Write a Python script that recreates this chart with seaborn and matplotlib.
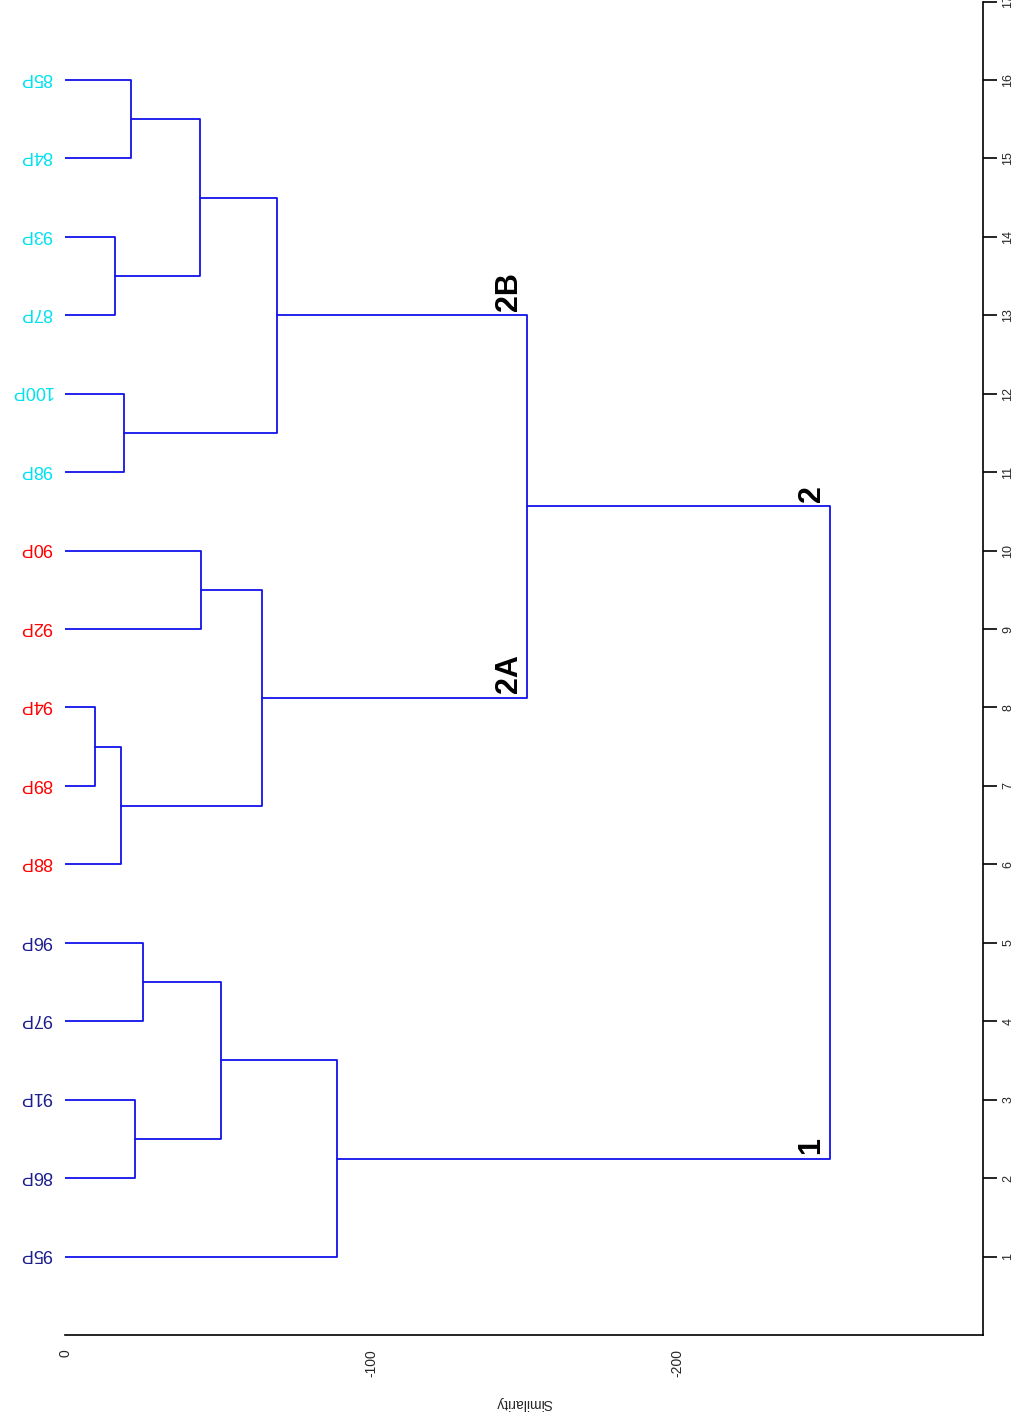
import numpy as np
import pandas as pd
import matplotlib
matplotlib.use("Agg")
import matplotlib.pyplot as plt
import seaborn as sns

# ---- data ----
leaf_labels = ["95P", "86P", "91P", "97P", "96P", "88P", "89P", "94P",
               "92P", "90P", "98P", "100P", "87P", "93P", "84P", "85P"]
leaf_groups = ["1", "1", "1", "1", "1", "2A", "2A", "2A",
               "2A", "2A", "2B", "2B", "2B", "2B", "2B", "2B"]
# merges: (left node, right node, similarity height); leaves are 0..15
merge_left = [1, 3, 16, 0, 6, 5, 8, 21, 10, 12, 14, 25, 24, 23, 19]
merge_right = [2, 4, 17, 18, 7, 20, 9, 22, 11, 13, 15, 26, 27, 28, 29]
merge_height = [-22.9, -25.5, -51.0, -88.9, -9.8, -18.3, -44.4, -64.4,
                -19.3, -16.3, -21.6, -44.1, -69.3, -151.0, -250.0]
cluster_names = ["1", "2", "2A", "2B"]
cluster_nodes = [19, 29, 23, 28]   # node whose branch carries the label
cluster_parent = [30, 30, 29, 29]  # node where the branch joins
x_ticks = [0, -100, -200]
x_ticklabels = ["0", "-100", "-200"]
y_ticks = list(range(1, 18))
y_ticklabels = [str(v) for v in y_ticks]

group_colors = {"1": "#1c1c8e", "2A": "#ff0000", "2B": "#00e1f0"}
line_color = "#1212ec"

# ---- build dendrogram geometry ----
n = len(leaf_labels)
pos = {i: i + 1 for i in range(n)}
hgt = {i: 0.0 for i in range(n)}
rows = []
for k, (a, b, h) in enumerate(zip(merge_left, merge_right, merge_height)):
    node = n + k
    pts = [(hgt[a], pos[a]), (h, pos[a]), (h, pos[b]), (hgt[b], pos[b])]
    for j, (xx, yy) in enumerate(pts):
        rows.append({"seg": k, "order": j, "x": xx, "y": yy})
    pos[node] = (pos[a] + pos[b]) / 2
    hgt[node] = h
df = pd.DataFrame(rows)

# ---- plot ----
sns.set_style("white")
plt.rcParams["font.family"] = ["Liberation Sans", "DejaVu Sans"]

fig = plt.figure(figsize=(10.13, 14.16), dpi=100)
ax = fig.add_axes([65 / 1013, 81 / 1416, (983 - 65) / 1013, (1416 - 82.5) / 1416])

sns.lineplot(data=df, x="x", y="y", units="seg", estimator=None, sort=False,
             color=line_color, lw=1.3, ax=ax, legend=False)

for i, (lab, g) in enumerate(zip(leaf_labels, leaf_groups)):
    ax.annotate(lab, (0, pos[i]), xytext=(-9, 2), textcoords="offset points",
                rotation=180, ha="right", va="center", fontsize=13,
                color=group_colors[g])

for name, nd, par in zip(cluster_names, cluster_nodes, cluster_parent):
    ax.annotate(name, (hgt[par], pos[nd]), xytext=(-2.5, 3), textcoords="offset points",
                rotation=90, ha="right", va="bottom", fontsize=22,
                fontweight="bold", color="black")

ax.set_xlim(0, -300)
ax.set_ylim(0, 17)
ax.set_xticks(x_ticks)
ax.set_xticklabels(x_ticklabels, rotation=90, fontsize=10)
ax.set_yticks(y_ticks)
ax.set_yticklabels(y_ticklabels, rotation=90, fontsize=9, va="center")
ax.yaxis.tick_right()
ax.tick_params(axis="x", direction="out", length=7, width=1.2, color="black", pad=3)
ax.tick_params(axis="y", direction="out", length=10, width=1.2, color="black", pad=4)
for s in ["top", "left"]:
    ax.spines[s].set_visible(False)
for s in ["bottom", "right"]:
    ax.spines[s].set_visible(True)
    ax.spines[s].set_color("black")
    ax.spines[s].set_linewidth(1.2)
ax.set_xlabel("Similarity", rotation=180, fontsize=10, labelpad=14)
ax.set_ylabel("")
ax.grid(False)

fig.savefig("out.png", dpi=100)
